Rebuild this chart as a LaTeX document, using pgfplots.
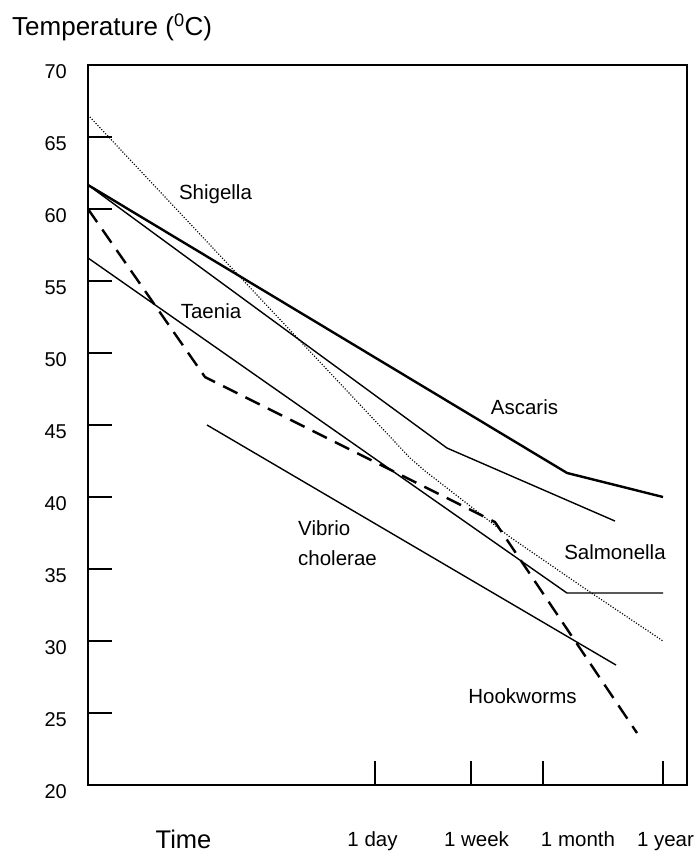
\documentclass[border=0pt]{standalone}
\usepackage{fontspec}
\setmainfont{Liberation Sans}
\usepackage{pgfplots}
\pgfplotsset{compat=1.18}
\begin{document}
\begin{tikzpicture}
\begin{axis}[
  at={(0pt,0pt)}, anchor=south west,
  scale only axis, width=599pt, height=720pt,
  xmin=0, xmax=599, ymin=20, ymax=70,
  clip=false,
  axis line style={line width=1.8pt},
  xtick={287,383,455,575}, xticklabels={},
  ytick={20,25,30,35,40,45,50,55,60,65,70},
  xtick pos=left, ytick pos=left,
  tick align=inside, major tick length=24pt,
  tick style={line width=1.2pt, black},
  /pgf/number format/assume math mode=true,
  yticklabel style={font=\fontsize{20}{22}\selectfont, anchor=east, inner sep=0pt, xshift=-21pt, yshift=-7pt},
]
% Shigella (dotted)
\addplot[black, line width=1.2pt, dash pattern=on 1.1pt off 1.7pt] coordinates {(0,66.53) (322,42.71) (337,41.81) (422,37.22) (499,33.54) (575,30.0)};
% Ascaris (thick)
\addplot[black, line width=2.4pt] coordinates {(0,61.67) (479,41.67) (575,40.0)};
% thin line
\addplot[black, line width=1.4pt] coordinates {(0,61.67) (359,43.40) (527,38.33)};
% Taenia / Salmonella thin
\addplot[black, line width=1.4pt] coordinates {(0,56.60) (479,33.33) (575,33.33)};
% Vibrio cholerae
\addplot[black, line width=1.4pt] coordinates {(119,45.0) (528,28.33)};
% Hookworms (dashed)
\addplot[black, line width=2.4pt, dash pattern=on 16pt off 9pt] coordinates {(0,60.0) (117,48.33) (407,38.26) (549,23.61)};

\begin{scope}[every node/.style={font=\fontsize{20.5}{24}\selectfont, inner sep=0pt}]
\node[anchor=base] at (axis cs:127.5,60.69) {Shigella};
\node[anchor=base] at (axis cs:123,52.43) {Taenia};
\node[anchor=base] at (axis cs:436.5,45.76) {Ascaris};
\node[anchor=base west] at (axis cs:210,37.36) {Vibrio};
\node[anchor=base west] at (axis cs:210,35.21) {cholerae};
\node[anchor=base] at (axis cs:527,35.69) {Salmonella};
\node[anchor=base] at (axis cs:434.5,25.69) {Hookworms};
\node[anchor=base] at (axis cs:284.5,15.76) {1 day};
\node[anchor=base] at (axis cs:388.5,15.76) {1 week};
\node[anchor=base] at (axis cs:490,15.76) {1 month};
\node[anchor=base] at (axis cs:577.5,15.76) {1 year};
\end{scope}
\node[anchor=base, font=\fontsize{25.5}{30}\selectfont, inner sep=0pt] at (axis cs:95.5,15.62) {Time};
\node[anchor=base west, font=\fontsize{26}{30}\selectfont, inner sep=0pt] at (axis cs:-76,72.08) {Temperature (\textsuperscript{0}C)};
\end{axis}
\pgfresetboundingbox
\useasboundingbox (-88pt,-67pt) rectangle (607pt,785pt);
\end{tikzpicture}
\end{document}
